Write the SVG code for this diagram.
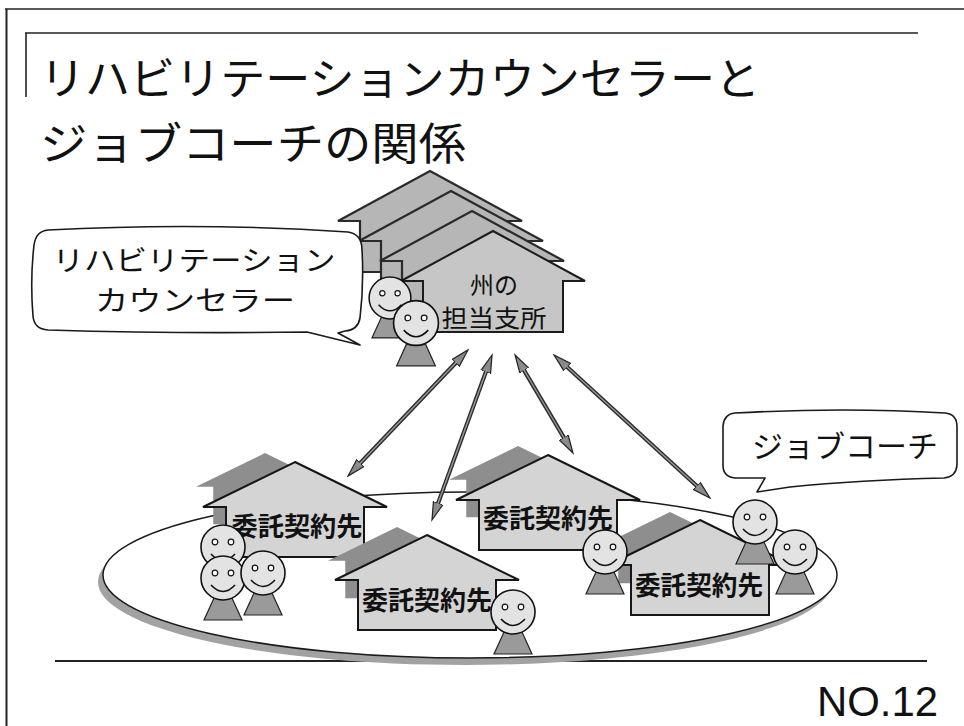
<svg xmlns="http://www.w3.org/2000/svg" xmlns:xlink="http://www.w3.org/1999/xlink" width="964" height="726" viewBox="0 0 964 726">
  <style>
    .frame { stroke: #222; fill: none; }
    .jp { font-family: "Noto Sans CJK JP", "Noto Sans CJK SC", sans-serif; fill: #111; }
    .title { font-size: 44px; }
    .bubble { fill: #fff; stroke: #1a1a1a; stroke-width: 1.6; stroke-linejoin: round; }
    .bubble-text { font-size: 30px; text-anchor: middle; }
    .bubble-text-sm { font-size: 28px; text-anchor: middle; }
    .house-front { fill: #d4d4d4; stroke: #161616; stroke-width: 2; stroke-linejoin: miter; }
    .house-back { fill: #8e8e8e; stroke: none; }
    .stack-back { fill: #b6b6b6; stroke: #2a2a2a; stroke-width: 2.2; }
    .stack-front { fill: #c6c6c6; stroke: #1c1c1c; stroke-width: 2; }
    .house-label { font-size: 26px; font-weight: bold; text-anchor: middle; }
    .office-label { font-size: 24px; text-anchor: middle; }
    .arrow-outer { stroke: #2b2b2b; stroke-width: 4.2; fill: none; }
    .arrow-inner { stroke: #9a9a9a; stroke-width: 1.4; fill: none; }
  </style>
  <defs>
    <!-- small house outline, peak at origin -->
    <path id="houseShape" d="M0,0 L92,45 L69,45 L69,95 L-69,95 L-69,45 L-92,45 Z"/>
    <!-- larger house used for the office stack -->
    <path id="officeShape" d="M0,0 L92,50 L70,50 L70,101 L-70,101 L-70,50 L-92,50 Z"/>
    <!-- smiley person -->
    <g id="face">
      <path d="M-9,20 L9,20 L19,42 L-19,42 Z" fill="#9a9a9a" stroke="#222" stroke-width="1.2"/>
      <circle r="22" fill="#e3e3e3" stroke="#111" stroke-width="1.6"/>
      <circle cx="-8" cy="-5" r="2.8" fill="#fff" stroke="#111" stroke-width="1.2"/>
      <circle cx="8" cy="-5" r="2.8" fill="#fff" stroke="#111" stroke-width="1.2"/>
      <path d="M-12,7 Q0,20 12,7" fill="none" stroke="#111" stroke-width="1.6"/>
    </g>
    <marker id="arrowHead" viewBox="0 -7 20 14" refX="8" refY="0" markerWidth="20" markerHeight="14" markerUnits="userSpaceOnUse" orient="auto-start-reverse">
      <path d="M0,-5 L18,0 L0,5 Z" fill="#8a8a8a" stroke="#222" stroke-width="1.2"/>
    </marker>
  </defs>

  <rect width="964" height="726" fill="#fff"/>

  <!-- page frame -->
  <g id="frame">
    <line class="frame" x1="5" y1="9" x2="964" y2="9" stroke-width="1.6"/>
    <line class="frame" x1="6.5" y1="9" x2="6.5" y2="726" stroke-width="2"/>
    <line class="frame" x1="25" y1="33" x2="918" y2="33" stroke-width="1.6"/>
    <line class="frame" x1="26" y1="33" x2="26" y2="97" stroke-width="1.6"/>
    <line class="frame" x1="55" y1="661" x2="927" y2="661" stroke-width="1.8"/>
  </g>

  <!-- heading -->
  <g id="title">
    <text class="jp title" x="40" y="95" textLength="720" lengthAdjust="spacingAndGlyphs">リハビリテーションカウンセラーと</text>
    <text class="jp title" x="40" y="160" textLength="426" lengthAdjust="spacingAndGlyphs">ジョブコーチの関係</text>
  </g>

  <!-- state branch office (stacked buildings) -->
  <g id="office">
    <use xlink:href="#officeShape" href="#officeShape" class="stack-back" transform="translate(430,171)"/>
    <use xlink:href="#officeShape" href="#officeShape" class="stack-back" transform="translate(451,191)"/>
    <use xlink:href="#officeShape" href="#officeShape" class="stack-back" transform="translate(472,211)"/>
    <use xlink:href="#officeShape" href="#officeShape" class="stack-front" transform="translate(493,231)"/>
    <text class="jp office-label" x="494" y="294">州の</text>
    <text class="jp office-label" x="494" y="327" textLength="105" lengthAdjust="spacingAndGlyphs">担当支所</text>
  </g>

  <!-- callout: rehabilitation counselor -->
  <g id="counselor-callout">
    <path class="bubble" d="M48,230 Q200,222 348,232 Q362,234 362,250 Q364,285 360,318 Q358,330 345,331 L338,333 L360,345 L307,332 Q180,334 48,330 Q34,329 33,316 Q30,280 34,245 Q36,231 48,230 Z"/>
    <text class="jp bubble-text-sm" x="194" y="271" textLength="283" lengthAdjust="spacingAndGlyphs">リハビリテーション</text>
    <text class="jp bubble-text-sm" x="195" y="311" textLength="200" lengthAdjust="spacingAndGlyphs">カウンセラー</text>
  </g>

  <!-- counselors at the office -->
  <g id="counselors">
    <use xlink:href="#face" href="#face" transform="translate(390,298) scale(0.95)"/>
    <use xlink:href="#face" href="#face" transform="translate(416,323) scale(1.02)"/>
  </g>

  <!-- service area of contracted providers -->
  <g id="region">
    <ellipse cx="465" cy="582" rx="367" ry="83" fill="#a2a2a2"/>
    <ellipse cx="470" cy="575" rx="367" ry="83" fill="#fff" stroke="#1a1a1a" stroke-width="1.5"/>
  </g>

  <g id="provider-1">
    <use xlink:href="#houseShape" href="#houseShape" class="house-back" transform="translate(265,453) scale(0.75)"/>
    <use xlink:href="#houseShape" href="#houseShape" class="house-front" transform="translate(295,462)"/>
    <text class="jp house-label" x="297" y="536" textLength="131" lengthAdjust="spacingAndGlyphs">委託契約先</text>
  </g>

  <g id="provider-3">
    <use xlink:href="#houseShape" href="#houseShape" class="house-back" transform="translate(518,446) scale(0.75)"/>
    <use xlink:href="#houseShape" href="#houseShape" class="house-front" transform="translate(548,455)"/>
    <text class="jp house-label" x="548" y="528" textLength="130" lengthAdjust="spacingAndGlyphs">委託契約先</text>
  </g>

  <g id="provider-2">
    <use xlink:href="#houseShape" href="#houseShape" class="house-back" transform="translate(397,527) scale(0.75)"/>
    <use xlink:href="#houseShape" href="#houseShape" class="house-front" transform="translate(427,535)"/>
    <text class="jp house-label" x="427" y="610" textLength="130" lengthAdjust="spacingAndGlyphs">委託契約先</text>
  </g>

  <g id="provider-4">
    <use xlink:href="#houseShape" href="#houseShape" class="house-back" transform="translate(670,512) scale(0.75)"/>
    <use xlink:href="#houseShape" href="#houseShape" class="house-front" transform="translate(700,520)"/>
    <text class="jp house-label" x="699" y="595" textLength="128" lengthAdjust="spacingAndGlyphs">委託契約先</text>
  </g>

  <!-- job coaches -->
  <g id="job-coaches">
    <use xlink:href="#face" href="#face" transform="translate(223,547)"/>
    <use xlink:href="#face" href="#face" transform="translate(223,578)"/>
    <use xlink:href="#face" href="#face" transform="translate(263,573)"/>
    <use xlink:href="#face" href="#face" transform="translate(513,612)"/>
    <use xlink:href="#face" href="#face" transform="translate(605,552)"/>
    <use xlink:href="#face" href="#face" transform="translate(755,522)"/>
    <use xlink:href="#face" href="#face" transform="translate(795,552)"/>
  </g>

  <!-- callout: job coach -->
  <g id="coach-callout">
    <path class="bubble" d="M735,413 Q845,407 945,413 Q957,414 957,427 L957,465 Q956,477 944,478 Q860,480 790,487 L757,492 L765,478 L735,478 Q723,477 723,465 L723,426 Q724,414 735,413 Z"/>
    <text class="jp bubble-text" x="845" y="457" textLength="186" lengthAdjust="spacingAndGlyphs">ジョブコーチ</text>
  </g>

  <!-- two-way links between the office and providers -->
  <g id="connectors">
    <line class="arrow-outer" x1="461.1" y1="357.2" x2="354.9" y2="468.8" marker-start="url(#arrowHead)" marker-end="url(#arrowHead)"/>
    <line class="arrow-inner" x1="458" y1="360.5" x2="358" y2="465.5"/>
    <line class="arrow-outer" x1="488.6" y1="364.4" x2="435.4" y2="510.6" marker-start="url(#arrowHead)" marker-end="url(#arrowHead)"/>
    <line class="arrow-inner" x1="487" y1="369" x2="437" y2="506"/>
    <line class="arrow-outer" x1="520.1" y1="363.6" x2="567.9" y2="444.4" marker-start="url(#arrowHead)" marker-end="url(#arrowHead)"/>
    <line class="arrow-inner" x1="522.5" y1="367.5" x2="565.5" y2="440.5"/>
    <line class="arrow-outer" x1="561.4" y1="361.8" x2="702.6" y2="491.2" marker-start="url(#arrowHead)" marker-end="url(#arrowHead)"/>
    <line class="arrow-inner" x1="565" y1="365" x2="699" y2="488"/>
  </g>

  <!-- page number -->
  <g id="page-number">
    <text x="817" y="716" font-family="'Liberation Sans', Arial, sans-serif" font-size="42" fill="#111" textLength="121" lengthAdjust="spacingAndGlyphs">NO.12</text>
  </g>
</svg>
